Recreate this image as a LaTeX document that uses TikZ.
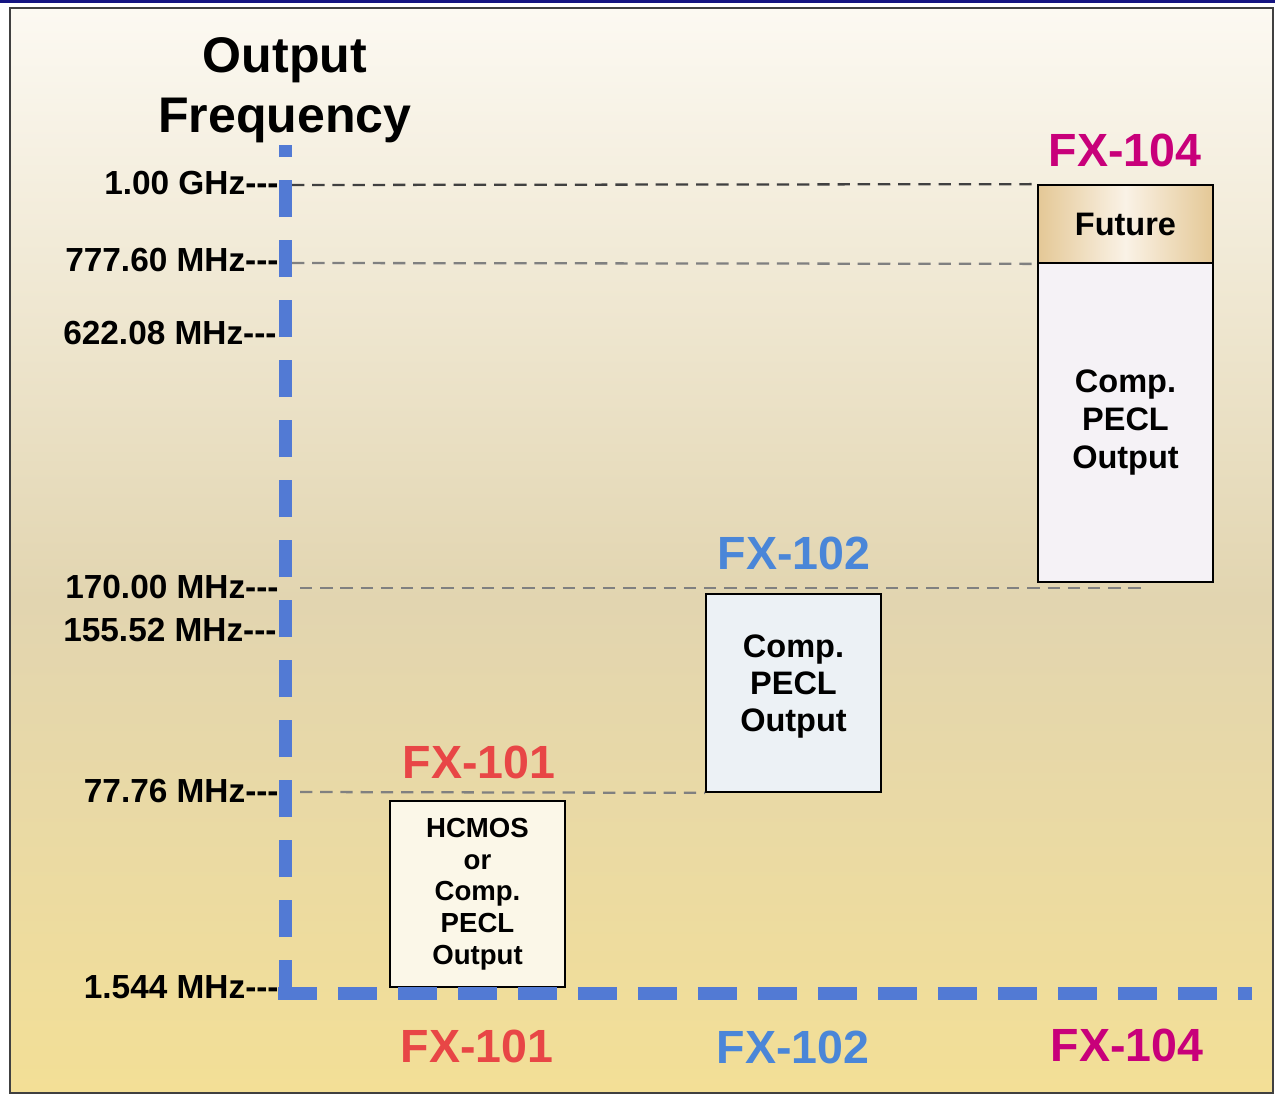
\documentclass[tikz,border=0pt]{standalone}
\usepackage{fontspec}
\setmainfont{Liberation Sans}
\definecolor{bgtop}{RGB}{252,249,242}
\definecolor{bgmid}{RGB}{226,213,176}
\definecolor{bgbot}{RGB}{243,223,150}
\definecolor{axisblue}{RGB}{82,122,212}
\definecolor{fxred}{RGB}{232,70,70}
\definecolor{fxblue}{RGB}{74,134,216}
\definecolor{fxmag}{RGB}{200,0,122}
\definecolor{futtan}{RGB}{228,200,150}
\definecolor{futmid}{RGB}{250,242,230}
\definecolor{pecl}{RGB}{245,242,246}
\definecolor{peclblue}{RGB}{236,241,245}
\definecolor{hcmos}{RGB}{251,247,232}
\definecolor{navy}{RGB}{20,20,130}
\newcommand{\tickdash}{-{}-{}-}
\tikzset{
    tick/.style={anchor=east, inner sep=0pt, font=\fontsize{19}{21}\selectfont\bfseries},
    fxlab/.style={inner sep=0pt, font=\fontsize{26.5}{30}\selectfont\bfseries},
    box/.style={draw=black, line width=1pt, minimum width=3.5cm, inner sep=0pt,
        align=center, font=\fontsize{18.5}{21.5}\selectfont\bfseries},
    guide/.style={line width=1.3pt, dash pattern=on 7pt off 4.5pt},
}
\begin{document}
\begin{tikzpicture}[x=0.02cm, y=-0.02cm]
    \useasboundingbox (0,0) rectangle (1275,1099);
    % background
    \shade[top color=bgtop, bottom color=bgmid] (10,8) rectangle (1273,600);
    \shade[top color=bgmid, bottom color=bgbot] (10,600) rectangle (1273,1093);
    \draw[black!75, line width=1.2pt] (10,8) rectangle (1273,1093);
    \draw[navy, line width=1.2pt] (0,1.5) -- (1275,1.5);

    \node[align=center, font=\fontsize{28.5}{34}\selectfont\bfseries] (title) at (285,90) {Output\\Frequency};

    % boxes
    \node[box, minimum height=1.56cm, left color=futtan, right color=futtan, middle color=futmid] (fut) at (1125.5,224) {Future};
    \node[box, minimum height=6.38cm, fill=pecl] (b104) at (1125.5,422.5) {Comp.\\PECL\\Output};
    \node[box, minimum height=3.96cm, fill=peclblue] (b102) at (793.5,693) {};
    \node[align=center, font=\fontsize{18.5}{21}\selectfont\bfseries] (b102t) at ([yshift=0.13cm]b102.center) {Comp.\\PECL\\Output};
    \node[box, minimum height=3.72cm, fill=hcmos, font=\fontsize{15.7}{18}\selectfont\bfseries] (b101) at (477.5,894) {HCMOS\\or\\Comp.\\PECL\\Output};

    % guide lines
    \coordinate (g1000) at (292,185);
    \coordinate (g777) at (292,263);
    \coordinate (g170) at (300,588);
    \coordinate (g170e) at (1145,588);
    \coordinate (g77) at (300,792);
    \draw[guide, black!75] (g1000) -- (fut.north west);
    \draw[guide, black!50] (g777) -- (fut.south west);
    \draw[guide, black!50] (g170) -- (g170e);
    \draw[guide, black!50] (g77) -- (b102.south west);

    % axes
    \coordinate (o) at (285,993);
    \draw[axisblue, line width=7.4pt, dash pattern=on 0.74cm off 0.46cm] (285,997) -- (285,145);
    \draw[axisblue, line width=7.4pt, dash pattern=on 0.78cm off 0.42cm] (278,993) -- (1252,993);

    % tick labels
    \node[tick] (t1000) at (279,183) {1.00 GHz\tickdash};
    \node[tick] (t777) at (279,260) {777.60 MHz\tickdash};
    \node[tick] (t622) at (277,333) {622.08 MHz\tickdash};
    \node[tick] (t170) at (279,587) {170.00 MHz\tickdash};
    \node[tick] (t155) at (277,630) {155.52 MHz\tickdash};
    \node[tick] (t77) at (279,791) {77.76 MHz\tickdash};
    \node[tick] (t1544) at (279,987) {1.544 MHz\tickdash};

    % product labels
    \node[fxlab, text=fxmag] (l104) at (1125,150) {FX-104};
    \node[fxlab, text=fxblue] (l102) at (794,553) {FX-102};
    \node[fxlab, text=fxred] (l101) at (479,762) {FX-101};
    \node[fxlab, text=fxred] (x101) at (477,1046) {FX-101};
    \node[fxlab, text=fxblue] (x102) at (793,1047) {FX-102};
    \node[fxlab, text=fxmag] (x104) at (1127,1045) {FX-104};
\end{tikzpicture}
\end{document}
